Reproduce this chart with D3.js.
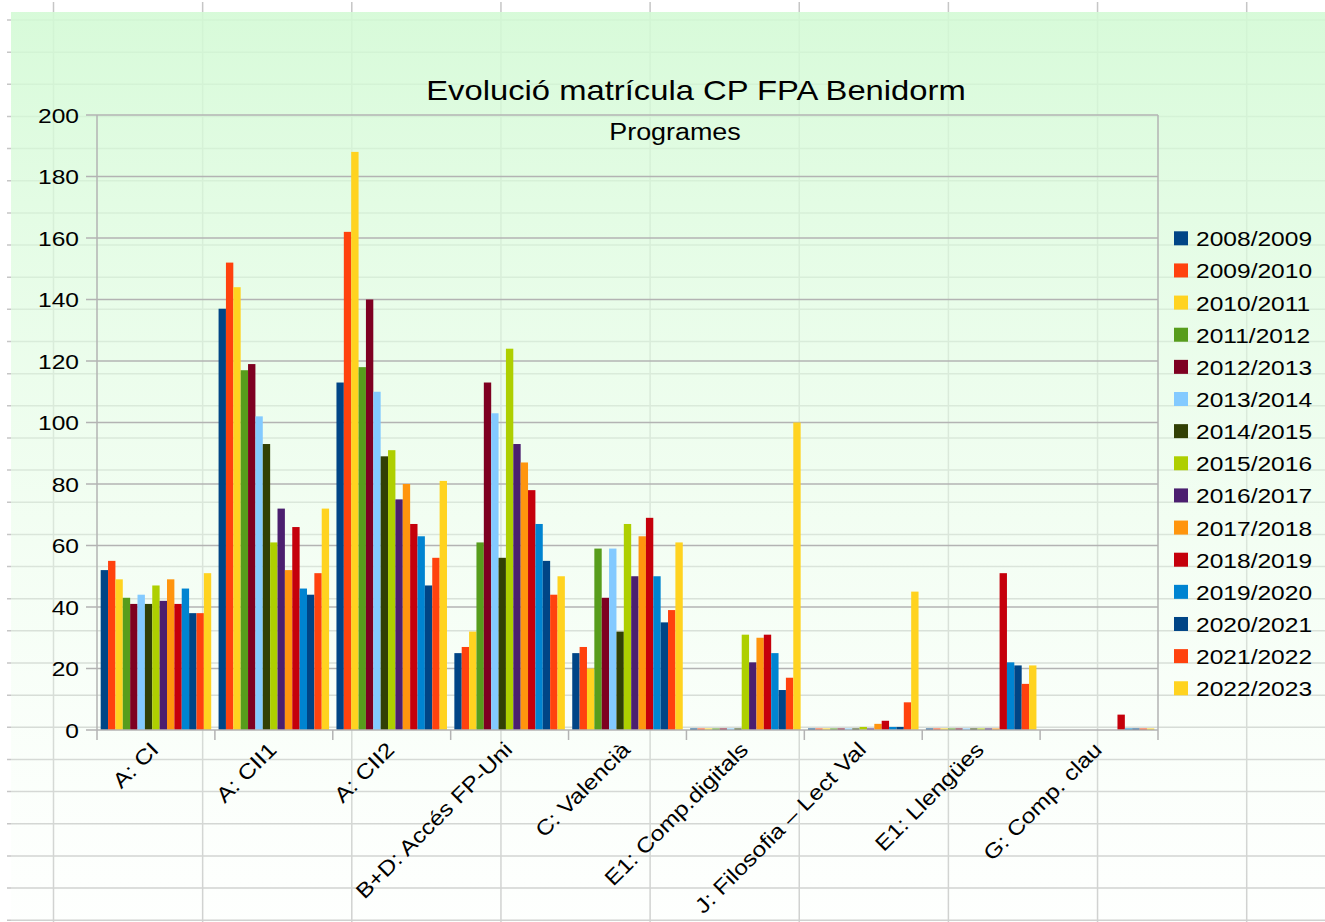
<!DOCTYPE html>
<html>
<head>
<meta charset="utf-8">
<script src="https://cdn.jsdelivr.net/npm/d3@7"></script>
<style>
  html, body { margin: 0; padding: 0; background: #fff; }
  svg { display: block; }
</style>
</head>
<body>
<svg id="svg"></svg>
<script>
// categories (programes)
const categories = ["A: CI", "A: CII1", "A: CII2", "B+D: Accés FP-Uni", "C: Valencià",
  "E1: Comp.digitals", "J: Filosofia – Lect Val", "E1: Llengües", "G: Comp. clau"];

// one series per school year, values in the category order above (null = no data)
const s2008_09 = [52, 137, 113, 25, 25, 0, 0, 0, null];
const s2009_10 = [55, 152, 162, 27, 27, 0, 0, 0, null];
const s2010_11 = [49, 144, 188, 32, 20, 0, 0, 0, null];
const s2011_12 = [43, 117, 118, 61, 59, 0, 0, 0, null];
const s2012_13 = [41, 119, 140, 113, 43, 0, 0, 0, null];
const s2013_14 = [44, 102, 110, 103, 59, 0, 0, 0, null];
const s2014_15 = [41, 93, 89, 56, 32, 0, 0, 0, null];
const s2015_16 = [47, 61, 91, 124, 67, 31, 1, 0, null];
const s2016_17 = [42, 72, 75, 93, 50, 22, 0, 0, null];
const s2017_18 = [49, 52, 80, 87, 63, 30, 2, 0, null];
const s2018_19 = [41, 66, 67, 78, 69, 31, 3, 51, 5];
const s2019_20 = [46, 46, 63, 67, 50, 25, 1, 22, 0];
const s2020_21 = [38, 44, 47, 55, 35, 13, 1, 21, 0];
const s2021_22 = [38, 51, 56, 44, 39, 17, 9, 15, 0];
const s2022_23 = [51, 72, 81, 50, 61, 100, 45, 21, 0];

const years = ["2008/2009", "2009/2010", "2010/2011", "2011/2012", "2012/2013", "2013/2014",
  "2014/2015", "2015/2016", "2016/2017", "2017/2018", "2018/2019", "2019/2020",
  "2020/2021", "2021/2022", "2022/2023"];
const seriesValues = [s2008_09, s2009_10, s2010_11, s2011_12, s2012_13, s2013_14, s2014_15,
  s2015_16, s2016_17, s2017_18, s2018_19, s2019_20, s2020_21, s2021_22, s2022_23];

const yTicks = [0, 20, 40, 60, 80, 100, 120, 140, 160, 180, 200];

// LibreOffice default palette (repeats after 12)
const colours = ["#004586", "#ff420e", "#ffd320", "#579d1c", "#7e0021", "#83caff",
  "#314004", "#aecf00", "#4b1f6f", "#ff950e", "#c5000b", "#0084d1",
  "#004586", "#ff420e", "#ffd320"];

const W = 1325, H = 922;
const plot = { left: 97, right: 1158, top: 115, bottom: 730 };
const stretch = 1.17; // text in the screenshot is a bit wider than normal
const font = "'Liberation Sans', Arial, sans-serif";

const svg = d3.select("#svg").attr("width", W).attr("height", H);

// spreadsheet grid behind the chart
const colX = d3.range(9).map(i => 53.5 + i * 149.15);
const rowY = d3.range(29).map(i => 20 + i * 32.15);
const sheet = svg.append("g").attr("stroke", "#c6c6c6").attr("stroke-width", 1.5);
sheet.selectAll(".col").data(colX).enter().append("line")
  .attr("x1", d => d).attr("x2", d => d).attr("y1", 2).attr("y2", H);
sheet.selectAll(".row").data(rowY).enter().append("line")
  .attr("x1", 7).attr("x2", W).attr("y1", d => d).attr("y2", d => d);

// chart background gradient (semi-transparent, lets the sheet show through at the bottom)
const defs = svg.append("defs");
const grad = defs.append("linearGradient").attr("id", "bg")
  .attr("x1", 0).attr("y1", 0).attr("x2", 0).attr("y2", 1);
grad.append("stop").attr("offset", "0%").attr("stop-color", "#d3fad5").attr("stop-opacity", 0.9);
grad.append("stop").attr("offset", "55%").attr("stop-color", "#e9fde9").attr("stop-opacity", 0.6);
grad.append("stop").attr("offset", "100%").attr("stop-color", "#f8fff8").attr("stop-opacity", 0.2);

svg.append("rect")
  .attr("x", 11).attr("y", 12).attr("width", W - 11).attr("height", H - 12)
  .attr("fill", "url(#bg)");

// SCALES
const xScale = d3.scaleBand()
  .domain(categories)
  .range([plot.left, plot.right])
  .padding(0);

const xInner = d3.scaleBand()
  .domain(d3.range(years.length))
  .range([0, xScale.bandwidth()])
  .paddingInner(0)
  .paddingOuter(0.5);

const yScale = d3.scaleLinear()
  .domain([0, 200])
  .range([plot.bottom, plot.top]);

// GRIDLINES
svg.append("g")
  .selectAll("line")
  .data(yTicks.slice(1))
  .enter()
  .append("line")
  .attr("x1", plot.left).attr("x2", plot.right)
  .attr("y1", d => yScale(d)).attr("y2", d => yScale(d))
  .attr("stroke", "#b3b3b3").attr("stroke-width", 1.5);

// right border of the plot area
svg.append("line")
  .attr("x1", plot.right).attr("x2", plot.right)
  .attr("y1", plot.top).attr("y2", plot.bottom + 10)
  .attr("stroke", "#b3b3b3").attr("stroke-width", 1.5);

// BARS
const barGroup = svg.append("g");
seriesValues.forEach((vals, si) => {
  barGroup.selectAll(".bar-" + si)
    .data(vals.map((v, ci) => ({ v, c: categories[ci] })).filter(d => d.v !== null))
    .enter()
    .append("rect")
    .attr("class", "bar-" + si)
    .attr("x", d => xScale(d.c) + xInner(si))
    .attr("width", xInner.bandwidth())
    .attr("y", d => Math.min(yScale(d.v), plot.bottom - 1.5))
    .attr("height", d => Math.max(plot.bottom - yScale(d.v), 1.5))
    .attr("fill", colours[si]);
});

// Y AXIS
svg.append("line")
  .attr("x1", plot.left).attr("x2", plot.left)
  .attr("y1", plot.top).attr("y2", plot.bottom)
  .attr("stroke", "#b3b3b3").attr("stroke-width", 1.5);

const yAxis = svg.append("g");
yAxis.selectAll("line")
  .data(yTicks)
  .enter()
  .append("line")
  .attr("x1", plot.left - 11).attr("x2", plot.left)
  .attr("y1", d => yScale(d)).attr("y2", d => yScale(d))
  .attr("stroke", "#b3b3b3").attr("stroke-width", 1.5);

yAxis.selectAll("text")
  .data(yTicks)
  .enter()
  .append("text")
  .attr("transform", d => `translate(79, ${yScale(d) + 7.5}) scale(${stretch},1)`)
  .attr("text-anchor", "end")
  .attr("font-family", font)
  .attr("font-size", 21)
  .attr("fill", "#000")
  .text(d => d);

// X AXIS
svg.append("line")
  .attr("x1", plot.left).attr("x2", plot.right)
  .attr("y1", plot.bottom).attr("y2", plot.bottom)
  .attr("stroke", "#b3b3b3").attr("stroke-width", 1.5);

svg.append("g")
  .selectAll("line")
  .data(categories)
  .enter()
  .append("line")
  .attr("x1", d => xScale(d)).attr("x2", d => xScale(d))
  .attr("y1", plot.bottom).attr("y2", plot.bottom + 10)
  .attr("stroke", "#b3b3b3").attr("stroke-width", 1.5);

svg.append("g")
  .selectAll("text")
  .data(categories)
  .enter()
  .append("text")
  .attr("transform", d => `translate(${xScale(d) + xScale.bandwidth() / 2 + 4}, 751) rotate(-45) scale(${stretch},1)`)
  .attr("text-anchor", "end")
  .attr("font-family", font)
  .attr("font-size", 21)
  .attr("fill", "#000")
  .text(d => d);

// TITLES
svg.append("text")
  .attr("transform", `translate(696, 100) scale(${stretch},1)`)
  .attr("text-anchor", "middle")
  .attr("font-family", font)
  .attr("font-size", 28)
  .attr("fill", "#000")
  .text("Evolució matrícula CP FPA Benidorm");

svg.append("text")
  .attr("transform", `translate(675, 140) scale(${stretch},1)`)
  .attr("text-anchor", "middle")
  .attr("font-family", font)
  .attr("font-size", 23)
  .attr("fill", "#000")
  .text("Programes");

// LEGEND
const legend = svg.append("g")
  .selectAll("g")
  .data(years)
  .enter()
  .append("g")
  .attr("transform", (d, i) => `translate(1174, ${238.3 + i * 32.14})`);

legend.append("rect")
  .attr("x", 0).attr("y", -7)
  .attr("width", 14).attr("height", 14)
  .attr("fill", (d, i) => colours[i]);

legend.append("text")
  .attr("transform", `translate(22, 8) scale(${stretch},1)`)
  .attr("font-family", font)
  .attr("font-size", 21)
  .attr("fill", "#000")
  .text(d => d);
</script>
</body>
</html>
